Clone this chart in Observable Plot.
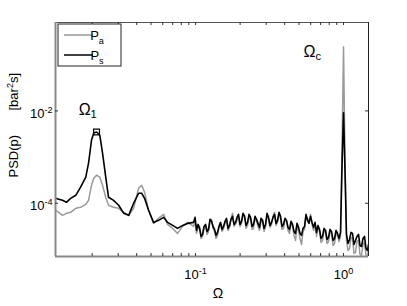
<!DOCTYPE html>
<html><head><meta charset="utf-8">
<script src="https://cdn.jsdelivr.net/npm/d3@7"></script>
<script src="https://cdn.jsdelivr.net/npm/@observablehq/plot@0.6"></script>
<style>body{margin:0;background:#fff;} svg{display:block}</style>
</head><body><div id="chart"></div>
<script>
// ---- data ----
const omega = [
  0.0113, 0.0119, 0.0126, 0.0134, 0.0143, 0.0155, 0.0167, 0.0181, 0.0189, 0.0198, 0.0205, 0.0214, 0.0225, 0.0235, 0.0247, 0.0258,
  0.0279, 0.0302, 0.0327, 0.0353, 0.0381, 0.0412, 0.0432, 0.0452, 0.0481, 0.0520, 0.0562, 0.0608, 0.0647, 0.0700, 0.0755, 0.0817, 0.0883,
  0.0969, 0.0992, 0.1015, 0.1039, 0.1064, 0.1089, 0.1114, 0.1140, 0.1168, 0.1196,
  0.1223, 0.1252, 0.1282, 0.1312, 0.1343, 0.1375, 0.1407, 0.1440, 0.1475, 0.1510,
  0.1545, 0.1581, 0.1619, 0.1657, 0.1696, 0.1736, 0.1777, 0.1819, 0.1862, 0.1906,
  0.1951, 0.1997, 0.2044, 0.2092, 0.2142, 0.2193, 0.2245, 0.2298, 0.2352, 0.2408,
  0.2464, 0.2522, 0.2582, 0.2643, 0.2705, 0.2769, 0.2835, 0.2902, 0.2970, 0.3040,
  0.3112, 0.3185, 0.3261, 0.3338, 0.3417, 0.3498, 0.3580, 0.3664, 0.3751, 0.3840,
  0.3930, 0.4023, 0.4118, 0.4215, 0.4315, 0.4417, 0.4521, 0.4628, 0.4737, 0.4849,
  0.4964, 0.5081, 0.5201, 0.5324, 0.5450, 0.5579, 0.5710, 0.5845, 0.5983, 0.6124,
  0.6269, 0.6417, 0.6569, 0.6724, 0.6883, 0.7045, 0.7212, 0.7382, 0.7557, 0.7735,
  0.7918, 0.8105, 0.8297, 0.8493, 0.8693, 0.8898, 0.9109, 0.9324, 0.9545,
  0.977, 1.000, 1.023, 1.047, 1.072, 1.098, 1.124, 1.150, 1.177, 1.205, 1.233, 1.263, 1.292, 1.323, 1.354, 1.386, 1.419, 1.452, 1.475
];
const psdS = [
  1.28e-4, 1.22e-4, 1.16e-4, 1.05e-4, 1.28e-4, 1.49e-4, 2.23e-4, 3.67e-4, 7.41e-4, 2.34e-3, 3.33e-3, 3.49e-3, 3.01e-3, 1.22e-3, 3.67e-4, 1.35e-4,
  1.16e-4, 9.05e-5, 6.06e-5, 5.48e-5, 1.00e-4, 1.65e-4, 1.65e-4, 1.28e-4, 7.05e-5, 3.86e-5, 4.27e-5, 4.96e-5, 3.86e-5, 3.32e-5, 2.86e-5, 3.32e-5, 3.67e-5,
  3.86e-5, 4.96e-5, 2.59e-5, 3.49e-5, 2.86e-5, 1.92e-5, 2.12e-5, 3.16e-5, 3.49e-5, 2.46e-5,
  2.72e-5, 4.49e-5, 4.06e-5, 3.16e-5, 2.72e-5, 2.02e-5, 2.34e-5, 3.16e-5, 3.86e-5, 2.72e-5,
  3.16e-5, 4.06e-5, 4.72e-5, 2.86e-5, 3.32e-5, 4.49e-5, 5.22e-5, 3.49e-5, 3.86e-5, 4.96e-5,
  5.77e-5, 3.49e-5, 4.06e-5, 6.06e-5, 5.22e-5, 3.32e-5, 3.86e-5, 5.77e-5, 4.96e-5, 3.16e-5,
  3.49e-5, 5.22e-5, 4.49e-5, 3.67e-5, 3.01e-5, 4.72e-5, 4.27e-5, 2.86e-5, 3.49e-5, 6.06e-5,
  4.96e-5, 3.32e-5, 3.86e-5, 4.96e-5, 5.77e-5, 3.67e-5, 4.27e-5, 6.37e-5, 5.22e-5, 3.16e-5,
  3.49e-5, 4.72e-5, 4.27e-5, 3.01e-5, 2.72e-5, 4.06e-5, 3.49e-5, 2.46e-5, 2.23e-5, 3.67e-5,
  3.01e-5, 2.23e-5, 2.02e-5, 2.86e-5, 3.16e-5, 5.77e-5, 4.27e-5, 3.67e-5, 5.22e-5, 3.86e-5,
  3.01e-5, 3.86e-5, 2.34e-5, 3.32e-5, 2.72e-5, 1.73e-5, 1.92e-5, 2.86e-5, 2.59e-5, 1.65e-5,
  1.82e-5, 2.72e-5, 2.46e-5, 1.57e-5, 1.73e-5, 2.59e-5, 2.23e-5, 1.73e-5, 2.34e-5,
  6.70e-4, 9.05e-3, 5.21e-4, 2.12e-5, 1.35e-5, 1.65e-5, 2.34e-5, 2.23e-5, 1.28e-5, 1.57e-5, 1.92e-5, 2.12e-5, 1.22e-5, 1.16e-5, 1.73e-5, 1.92e-5, 1.05e-5, 9.51e-6, 1.28e-5
];
const psdA = [
  7.05e-5, 6.37e-5, 5.48e-5, 6.06e-5, 6.37e-5, 7.79e-5, 8.19e-5, 9.51e-5, 1.16e-4, 2.46e-4, 3.49e-4, 4.06e-4, 3.67e-4, 2.46e-4, 1.35e-4, 9.05e-5,
  8.19e-5, 7.79e-5, 6.37e-5, 5.48e-5, 7.79e-5, 2.12e-4, 2.46e-4, 1.73e-4, 7.05e-5, 3.67e-5, 4.72e-5, 5.77e-5, 3.49e-5, 2.86e-5, 2.23e-5, 3.16e-5, 3.86e-5,
  3.16e-5, 4.27e-5, 2.23e-5, 2.86e-5, 3.16e-5, 1.73e-5, 1.92e-5, 2.72e-5, 3.16e-5, 2.12e-5,
  2.46e-5, 4.06e-5, 4.49e-5, 2.86e-5, 2.46e-5, 1.73e-5, 2.02e-5, 3.01e-5, 3.49e-5, 2.46e-5,
  2.86e-5, 3.67e-5, 4.27e-5, 2.59e-5, 3.01e-5, 4.72e-5, 6.06e-5, 3.16e-5, 3.49e-5, 4.27e-5,
  4.96e-5, 3.16e-5, 3.67e-5, 5.77e-5, 5.48e-5, 2.86e-5, 3.32e-5, 5.22e-5, 4.49e-5, 2.72e-5,
  2.86e-5, 4.96e-5, 4.06e-5, 3.16e-5, 2.59e-5, 4.06e-5, 4.49e-5, 2.46e-5, 3.16e-5, 5.48e-5,
  4.49e-5, 3.01e-5, 3.49e-5, 5.22e-5, 6.37e-5, 3.32e-5, 3.86e-5, 5.77e-5, 4.72e-5, 2.72e-5,
  2.86e-5, 4.49e-5, 4.06e-5, 2.59e-5, 2.23e-5, 3.86e-5, 3.16e-5, 2.02e-5, 1.57e-5, 3.16e-5,
  2.59e-5, 1.73e-5, 1.28e-5, 2.46e-5, 2.72e-5, 5.22e-5, 4.72e-5, 3.86e-5, 5.77e-5, 3.49e-5,
  2.59e-5, 3.32e-5, 1.92e-5, 3.01e-5, 2.46e-5, 1.42e-5, 1.57e-5, 2.59e-5, 2.34e-5, 1.35e-5,
  1.49e-5, 2.46e-5, 2.23e-5, 1.22e-5, 1.35e-5, 2.23e-5, 2.02e-5, 1.49e-5, 1.92e-5,
  1.42e-3, 0.245, 8.61e-4, 1.57e-5, 9.51e-6, 1.05e-5, 1.82e-5, 1.73e-5, 8.19e-6, 8.61e-6, 1.49e-5, 1.57e-5, 7.79e-6, 7.41e-6, 1.28e-5, 1.42e-5, 7.41e-6, 7.41e-6, 9.51e-6
];
const seriesNames = ["P_{a}", "P_{s}"];
const seriesColors = ["#9a9a9a", "#000000"];
const xDomain = [0.0113, 1.475];
const yDomain = [7.05e-6, 0.819];
const xMajorTicks = [0.1, 1];
const xTickLabels = ["10^{-1}", "10^{0}"];
const xMinorTicks = [0.02, 0.03, 0.04, 0.05, 0.06, 0.07, 0.08, 0.09, 0.2, 0.3, 0.4, 0.5, 0.6, 0.7, 0.8, 0.9];
const yMajorTicks = [1e-4, 1e-2];
const yTickLabels = ["10^{-4}", "10^{-2}"];
const peakMarker = [{omega: 0.0214, psd: 3.49e-3}];
const annotations = [
  {omega: 0.0162, psd: 8.2e-3, label: "Ω_{1}"},
  {omega: 0.537, psd: 0.149, label: "Ω_{c}"}
];
const xLabel = "Ω";
const yLabelParts = ["PSD(p)", "[bar^{2}s]"];

// ---- layout ----
const W = 407, H = 306, ML = 55, MR = 39, MT = 22, MB = 50;
const FW = W - ML - MR, FH = H - MT - MB;
const FONT = "'Liberation Sans', Arial, Helvetica, sans-serif";

const rowsA = omega.map((o, i) => ({omega: o, psd: psdA[i]}));
const rowsS = omega.map((o, i) => ({omega: o, psd: psdS[i]}));
const allXTicks = xMajorTicks.concat(xMinorTicks);

const plot = Plot.plot({
  width: W, height: H,
  marginLeft: ML, marginRight: MR, marginTop: MT, marginBottom: MB,
  style: {fontFamily: FONT, fontSize: "13px", background: "white", color: "black"},
  x: {type: "log", domain: xDomain, axis: null},
  y: {type: "log", domain: yDomain, axis: null},
  marks: [
    Plot.line(rowsA, {x: "omega", y: "psd", stroke: seriesColors[0], strokeWidth: 1.5, clip: true}),
    Plot.line(rowsS, {x: "omega", y: "psd", stroke: seriesColors[1], strokeWidth: 1.6, clip: true}),
    Plot.dot(peakMarker, {x: "omega", y: "psd", symbol: "square", r: 3.3, stroke: "black", fill: "none", strokeWidth: 1.2}),
    // frame
    Plot.ruleX([xDomain[1]], {stroke: "#222", strokeWidth: 1}),
    Plot.ruleY([yDomain[1]], {stroke: "#555", strokeWidth: 1}),
    Plot.ruleX([xDomain[0]], {stroke: "#8a8a8a", strokeWidth: 2}),
    Plot.ruleY([yDomain[0]], {stroke: "#8a8a8a", strokeWidth: 2}),
    // inward ticks
    Plot.tickX(allXTicks, {x: d => d, insetTop: FH - 3, stroke: "#333"}),
    Plot.tickX(allXTicks, {x: d => d, insetBottom: FH - 3, stroke: "#333"}),
    Plot.tickY(yMajorTicks, {y: d => d, insetRight: FW - 3, stroke: "#333"}),
    Plot.tickY(yMajorTicks, {y: d => d, insetLeft: FW - 3, stroke: "#333"}),
    // tick labels
    Plot.text(xMajorTicks, {x: d => d, text: (d, i) => xTickLabels[i], frameAnchor: "bottom", lineAnchor: "top", dy: 13, fontSize: 13}),
    Plot.text(yMajorTicks, {y: d => d, text: (d, i) => yTickLabels[i], frameAnchor: "left", textAnchor: "end", dx: -3, dy: 3, fontSize: 13}),
    // axis titles
    Plot.text([xLabel], {text: d => d, frameAnchor: "bottom", lineAnchor: "bottom", dx: 6, dy: 41, fontSize: 14}),
    Plot.text([yLabelParts[0]], {text: d => d, frameAnchor: "left", rotate: -90, dx: -42, dy: 38, fontSize: 13}),
    Plot.text([yLabelParts[1]], {text: d => d, frameAnchor: "left", rotate: -90, dx: -42, dy: -29, fontSize: 13}),
    // annotations
    Plot.text(annotations, {x: "omega", y: "psd", text: "label", textAnchor: "start", lineAnchor: "bottom", fontSize: 16})
  ]
});

document.getElementById("chart").appendChild(plot);

function richText(el, str) {
  const sel = d3.select(el);
  sel.text(null);
  const parts = str.split(/(\^\{[^}]*\}|_\{[^}]*\})/).filter(s => s);
  let cur = 0;
  parts.forEach(p => {
    let shift = 0, small = false, txt = p;
    if (p.startsWith("^{")) { shift = -5; small = true; txt = p.slice(2, -1); }
    else if (p.startsWith("_{")) { shift = 3.5; small = true; txt = p.slice(2, -1); }
    const ts = sel.append("tspan").text(txt);
    if (shift - cur !== 0) ts.attr("dy", shift - cur);
    if (small) ts.attr("font-size", "70%");
    cur = shift;
  });
}

const svg = d3.select(plot);
svg.selectAll("text").each(function() {
  const t = this.textContent;
  if (/[\^_]\{/.test(t)) richText(this, t);
});

// legend (inside the frame, top-left)
const lg = svg.append("g").attr("font-family", FONT).attr("font-size", 13);
const bx = ML + 3, by = MT + 2;
lg.append("rect").attr("x", bx).attr("y", by).attr("width", 63).attr("height", 42)
  .attr("fill", "white").attr("stroke", "#222").attr("stroke-width", 1);
seriesNames.forEach((name, i) => {
  const ly = by + 11 + i * 20;
  lg.append("line").attr("x1", bx + 6).attr("x2", bx + 35).attr("y1", ly).attr("y2", ly)
    .attr("stroke", seriesColors[i]).attr("stroke-width", 1.5);
  const t = lg.append("text").attr("x", bx + 39).attr("y", ly + 5).attr("fill", "black");
  richText(t.node(), name);
});
</script>
</body></html>
